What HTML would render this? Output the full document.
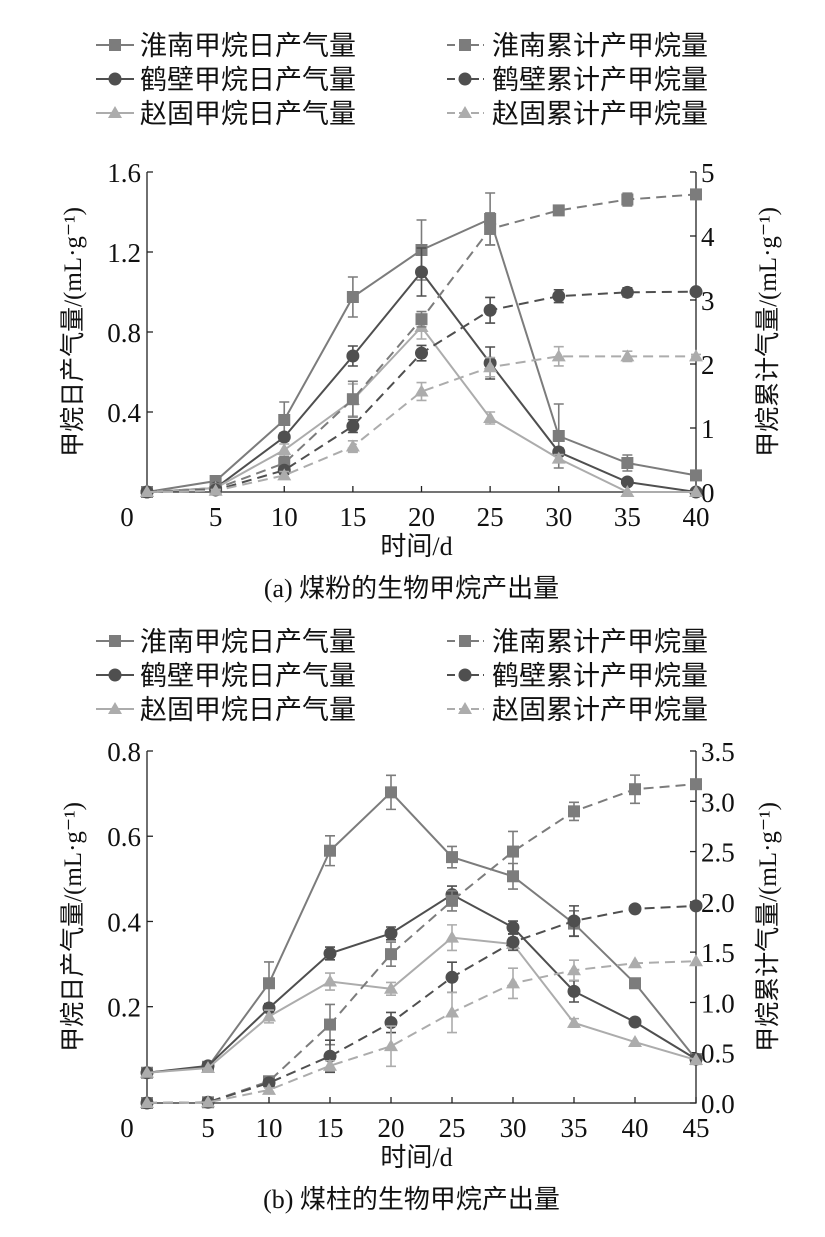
<!DOCTYPE html>
<html><head><meta charset="utf-8"><style>
body{margin:0;background:#fff;}
svg{display:block;font-family:"Liberation Serif","Noto Serif CJK SC","Noto Sans CJK SC",serif;}
.cj{font-family:"Liberation Serif","Noto Sans CJK SC",sans-serif;}
</style></head><body>
<svg id="fig" width="825" height="1237" viewBox="0 0 825 1237" xmlns="http://www.w3.org/2000/svg"></svg>
<script>
// ---- Chart (a) data ----
const daysA = [0,5,10,15,20,25,30,35,40];
const hnDailyA = [0,0.055,0.36,0.975,1.21,1.365,0.28,0.145,0.083];
const hbDailyA = [0,0.02,0.275,0.68,1.10,0.645,0.2,0.05,0];
const zgDailyA = [0,0.02,0.21,0.46,0.825,0.37,0.167,0,0];
const hnCumA = [0,0.05,0.45,1.45,2.7,4.11,4.4,4.57,4.65];
const hbCumA = [0,0.03,0.34,1.03,2.17,2.84,3.06,3.12,3.13];
const zgCumA = [0,0.02,0.26,0.71,1.57,1.95,2.12,2.12,2.12];
const hnDailyErrA = [0,0.01,0.09,0.1,0.15,0.13,0.16,0.04,0.01];
const hbDailyErrA = [0,0.01,0.02,0.05,0.12,0.08,0.02,0.01,0];
const zgDailyErrA = [0,0.01,0.03,0.08,0.06,0.03,0.02,0,0];
const hnCumErrA = [0,0.02,0.1,0.28,0.12,0.25,0.06,0.1,0.05];
const hbCumErrA = [0,0.02,0.06,0.1,0.12,0.2,0.1,0.07,0.04];
const zgCumErrA = [0,0.02,0.06,0.09,0.14,0.15,0.15,0.08,0.03];
const xTicksA = [0,5,10,15,20,25,30,35,40];
const yLeftTicksA = [0.4,0.8,1.2,1.6];
const yRightTicksA = [0,1,2,3,4,5];
// ---- Chart (b) data ----
const daysB = [0,5,10,15,20,25,30,35,40,45];
const hnDailyB = [0.045,0.059,0.255,0.566,0.703,0.551,0.506,0.395,0.255,0.077];
const hbDailyB = [0.045,0.061,0.197,0.325,0.372,0.463,0.386,0.236,0.164,0.077];
const zgDailyB = [0.045,0.056,0.177,0.259,0.242,0.362,0.347,0.162,0.117,0.075];
const hnCumB = [0,0.007,0.216,0.78,1.48,2.01,2.5,2.9,3.12,3.17];
const hbCumB = [0,0.007,0.2,0.465,0.8,1.25,1.6,1.81,1.93,1.96];
const zgCumB = [0,0.007,0.13,0.37,0.565,0.9,1.19,1.32,1.39,1.41];
const hnDailyErrB = [0,0,0.05,0.035,0.04,0.025,0.03,0.03,0,0];
const hbDailyErrB = [0,0,0.01,0.015,0.015,0.02,0.015,0.025,0,0];
const zgDailyErrB = [0,0,0.015,0.02,0.015,0.03,0.015,0.01,0,0];
const hnCumErrB = [0,0,0.03,0.2,0.12,0.1,0.2,0.09,0.14,0];
const hbCumErrB = [0,0,0.02,0.16,0.1,0.15,0.08,0.15,0,0];
const zgCumErrB = [0,0,0.02,0.05,0.2,0.2,0.15,0.1,0,0];
const xTicksB = [0,5,10,15,20,25,30,35,40,45];
const yLeftTicksB = [0.2,0.4,0.6,0.8];
const yRightTicksB = [0,0.5,1.0,1.5,2.0,2.5,3.0,3.5];

const NS="http://www.w3.org/2000/svg";
const svg=document.getElementById('fig');
function mk(tag,attrs,parent){const e=document.createElementNS(NS,tag);for(const k in attrs)e.setAttribute(k,attrs[k]);(parent||svg).appendChild(e);return e;}
function txt(x,y,s,size,anchor,parent,cls){const t=mk('text',{x:x,y:y,'font-size':size,'text-anchor':anchor||'middle',fill:'#111'},parent);if(cls)t.setAttribute('class',cls);t.textContent=s;return t;}
const C={hn:'#7c7c7c',hb:'#4f4f4f',zg:'#acacac'};
function marker(g,shape,x,y,col){
  if(shape==='sq')mk('rect',{x:x-6,y:y-6,width:12,height:12,fill:col},g);
  else if(shape==='ci')mk('circle',{cx:x,cy:y,r:6.5,fill:col},g);
  else mk('polygon',{points:`${x},${y-7} ${x+7},${y+5} ${x-7},${y+5}`,fill:col},g);
}
function legend(y0,prefix){
  const rows=[['淮南','hn','sq'],['鹤壁','hb','ci'],['赵固','zg','tr']];
  rows.forEach((r,i)=>{
    const y=y0+i*34;
    const g1=mk('g',{});
    
    
    mk('line',{x1:96,y1:y,x2:134,y2:y,stroke:C[r[1]],'stroke-width':2},g1);
    marker(g1,r[2],115,y,C[r[1]]);
    txt(140,y+10,r[0]+'甲烷日产气量',27,'start',g1,'cj');
    const g2=mk('g',{});
    
    
    mk('line',{x1:447,y1:y,x2:484,y2:y,stroke:C[r[1]],'stroke-width':2,'stroke-dasharray':'8,4'},g2);
    marker(g2,r[2],465,y,C[r[1]]);
    txt(492,y+10,r[0]+'累计产甲烷量',27,'start',g2,'cj');
  });
}
function chart(cfg){
  const g=mk('g',{});
  
  
  const X=v=>cfg.x0+(v-cfg.xmin)/(cfg.xmax-cfg.xmin)*(cfg.x1-cfg.x0);
  const YL=v=>cfg.yb-(v-cfg.lmin)/(cfg.lmax-cfg.lmin)*(cfg.yb-cfg.yt);
  const YR=v=>cfg.yb-(v-cfg.rmin)/(cfg.rmax-cfg.rmin)*(cfg.yb-cfg.yt);
  const ax=mk('path',{d:`M${cfg.x0},${cfg.yt}V${cfg.yb}H${cfg.x1}V${cfg.yt}`,fill:'none',stroke:'#222','stroke-width':1.3},g);
  
  
  cfg.xt.forEach(v=>{mk('line',{x1:X(v),y1:cfg.yb,x2:X(v),y2:cfg.yb-6,stroke:'#222','stroke-width':1.3},g);
    const t=txt(v===0?cfg.x0-20:X(v),cfg.yb+34,String(v),27,'middle',g);
    
    });
  cfg.lt.forEach(v=>{mk('line',{x1:cfg.x0,y1:YL(v),x2:cfg.x0+6,y2:YL(v),stroke:'#222','stroke-width':1.3},g);
    const t=txt(cfg.x0-6,YL(v)+10,v.toFixed(1),27,'end',g);
    
    });
  cfg.rt.forEach(v=>{mk('line',{x1:cfg.x1,y1:YR(v),x2:cfg.x1-6,y2:YR(v),stroke:'#222','stroke-width':1.3},g);
    const t=txt(cfg.x1+5,YR(v)+10,cfg.rdec?v.toFixed(1):String(v),27,'start',g);
    
    });
  const yl=txt(0,0,'甲烷日产气量/(mL·g⁻¹)',25,'middle',g,'cj');
  yl.setAttribute('transform',`translate(${cfg.x0-66},${(cfg.yt+cfg.yb)/2}) rotate(-90)`);
  
  
  const yr=txt(0,0,'甲烷累计气量/(mL·g⁻¹)',25,'middle',g,'cj');
  yr.setAttribute('transform',`translate(${cfg.x1+80},${(cfg.yt+cfg.yb)/2}) rotate(-90)`);
  
  
  const xl=txt((cfg.x0+cfg.x1)/2-5,cfg.yb+63,'时间/d',26,'middle',g,'cj');
  
  
  const cap=txt((cfg.x0+cfg.x1)/2-10,cfg.yb+105,cfg.caption,26,'middle',g,'cj');
  
  
  cfg.series.forEach(s=>{
    const sg=mk('g',{},g);
    
    
    const Y=s.right?YR:YL;
    const pts=cfg.days.map((d,i)=>[X(d),Y(s.v[i])]);
    const ln=mk('polyline',{points:pts.map(p=>p.join(',')).join(' '),fill:'none',stroke:s.c,'stroke-width':2,'stroke-dasharray':s.right?'10,6':'none'},sg);
    
    
    cfg.days.forEach((d,i)=>{
      const e=s.e[i];
      if(e>0){const ya=Y(s.v[i]+e),yb=Y(s.v[i]-e),x=X(d);
        mk('path',{d:`M${x},${ya}V${yb}M${x-5},${ya}H${x+5}M${x-5},${yb}H${x+5}`,stroke:s.c,'stroke-width':1.6,fill:'none'},sg);}
      marker(sg,s.m,X(d),Y(s.v[i]),s.c);
    });
  });
}
legend(45,'a');
chart({name:'chart-a',x0:147,x1:696,yt:172,yb:492,xmin:0,xmax:40,lmin:0,lmax:1.6,rmin:0,rmax:5,
  xt:xTicksA,lt:yLeftTicksA,rt:yRightTicksA,rdec:false,days:daysA,caption:'(a) 煤粉的生物甲烷产出量',
  series:[
    {name:'hn-daily-a',v:hnDailyA,e:hnDailyErrA,c:C.hn,m:'sq'},
    {name:'hb-daily-a',v:hbDailyA,e:hbDailyErrA,c:C.hb,m:'ci'},
    {name:'zg-daily-a',v:zgDailyA,e:zgDailyErrA,c:C.zg,m:'tr'},
    {name:'hn-cum-a',v:hnCumA,e:hnCumErrA,c:C.hn,m:'sq',right:true},
    {name:'hb-cum-a',v:hbCumA,e:hbCumErrA,c:C.hb,m:'ci',right:true},
    {name:'zg-cum-a',v:zgCumA,e:zgCumErrA,c:C.zg,m:'tr',right:true}]});
legend(641,'b');
chart({name:'chart-b',x0:147,x1:696,yt:751,yb:1103,xmin:0,xmax:45,lmin:-0.026,lmax:0.8,rmin:0,rmax:3.5,
  xt:xTicksB,lt:yLeftTicksB,rt:yRightTicksB,rdec:true,days:daysB,caption:'(b) 煤柱的生物甲烷产出量',
  series:[
    {name:'hn-daily-b',v:hnDailyB,e:hnDailyErrB,c:C.hn,m:'sq'},
    {name:'hb-daily-b',v:hbDailyB,e:hbDailyErrB,c:C.hb,m:'ci'},
    {name:'zg-daily-b',v:zgDailyB,e:zgDailyErrB,c:C.zg,m:'tr'},
    {name:'hn-cum-b',v:hnCumB,e:hnCumErrB,c:C.hn,m:'sq',right:true},
    {name:'hb-cum-b',v:hbCumB,e:hbCumErrB,c:C.hb,m:'ci',right:true},
    {name:'zg-cum-b',v:zgCumB,e:zgCumErrB,c:C.zg,m:'tr',right:true}]});
</script>
</body></html>
